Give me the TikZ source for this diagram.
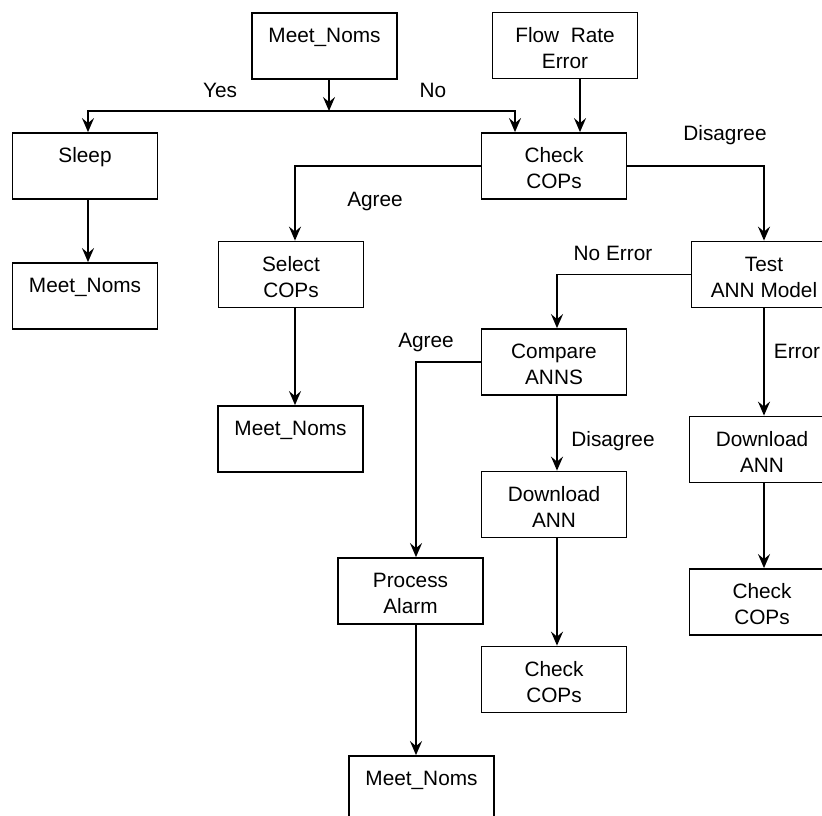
\documentclass[tikz,border=0pt]{standalone}
\usepackage{fontspec}
\setmainfont{Liberation Sans}
\usetikzlibrary{arrows.meta}

% box content: text hangs from the top edge of a 145 x 66 frame
\newcommand{\boxtext}[1]{\parbox[c][66pt][t]{145pt}{\centering\rule{0pt}{29.5pt}#1}}

\begin{document}
\begin{tikzpicture}[x=1pt,y=-1pt,
  font=\fontsize{20.8}{26}\selectfont,
  stepbox/.style={draw, line width=1.8pt, inner sep=0pt},
  arr/.style={line width=1.8pt, -{Stealth[length=14pt,width=12pt,inset=5pt]}},
  lbl/.style={anchor=base, inner sep=0pt}]
\useasboundingbox (0,0) rectangle (822,815);
\clip (0,0) rectangle (822,815);

% decision boxes
\node[stepbox] (start)   at (324.5,46)  {\boxtext{Meet\_Noms}};
\node[stepbox] (flow)    at (565,45.5)  {\boxtext{Flow\ \ Rate\\Error}};
\node[stepbox] (sleep)   at (85,166)    {\boxtext{Sleep}};
\node[stepbox] (nomsA)   at (85,296)    {\boxtext{Meet\_Noms}};
\node[stepbox] (checkA)  at (554,166)   {\boxtext{Check\\COPs}};
\node[stepbox] (select)  at (291,274.5) {\boxtext{Select\\COPs}};
\node[stepbox] (nomsB)   at (290.5,439) {\boxtext{Meet\_Noms}};
\node[stepbox] (test)    at (764,274.5) {\boxtext{Test\\ANN Model}};
\node[stepbox] (compare) at (554,362)   {\boxtext{Compare\\ANNS}};
\node[stepbox] (dlA)     at (554,504.5) {\boxtext{Download\\ANN}};
\node[stepbox] (checkB)  at (554,679.5) {\boxtext{Check\\COPs}};
\node[stepbox] (alarm)   at (410.5,591) {\boxtext{Process\\Alarm}};
\node[stepbox] (nomsC)   at (421.5,789) {\boxtext{Meet\_Noms}};
\node[stepbox] (dlB)     at (762,449.5) {\boxtext{Download\\ANN}};
\node[stepbox] (checkC)  at (762,602)   {\boxtext{Check\\COPs}};

% connectors
\coordinate (split) at (329,111);
\draw[arr] (start.south -| split) -- (split);
\draw[arr] (split) -| ([xshift=3pt]sleep.north);
\draw[arr] (split) -| ([xshift=-39pt]checkA.north);
\draw[arr] ([xshift=15pt]flow.south) -- ([xshift=26pt]checkA.north);
\draw[arr] ([xshift=3pt]sleep.south) -- ([xshift=3pt]nomsA.north);
\draw[arr] (checkA.west) -| ([xshift=4pt]select.north);
\draw[arr] ([xshift=4pt]select.south) -- ([xshift=4pt]select.south |- nomsB.north);
\draw[arr] (checkA.east) -| (test.north);
\draw[arr] (test.west) -| ([xshift=3pt]compare.north);
\draw[arr] (test.south) -- (test.south |- dlB.north);
\draw[arr] (dlB.south -| test.south) -- (test.south |- checkC.north);
\draw[arr] ([xshift=3pt]compare.south) -- ([xshift=3pt]dlA.north);
\draw[arr] ([xshift=3pt]dlA.south) -- ([xshift=3pt]checkB.north);
\draw[arr] (compare.west) -| ([xshift=5.5pt]alarm.north);
\draw[arr] ([xshift=5.5pt]alarm.south) -- ([xshift=5.5pt]alarm.south |- nomsC.north);

% branch labels
\node[lbl] (lyes)   at (220,97)    {Yes};
\node[lbl] (lno)    at (433,97)    {No};
\node[lbl] (ldis)   at (725,140)   {Disagree};
\node[lbl] (lagr)   at (375,206)   {Agree};
\node[lbl] (lnoerr) at (613,260.5) {No Error};
\node[lbl] (lagrB)  at (426,347.5) {Agree};
\node[lbl] (ldisB)  at (613,446)   {Disagree};
\node[lbl] (lerr)   at (797,358)   {Error};
\end{tikzpicture}
\end{document}
